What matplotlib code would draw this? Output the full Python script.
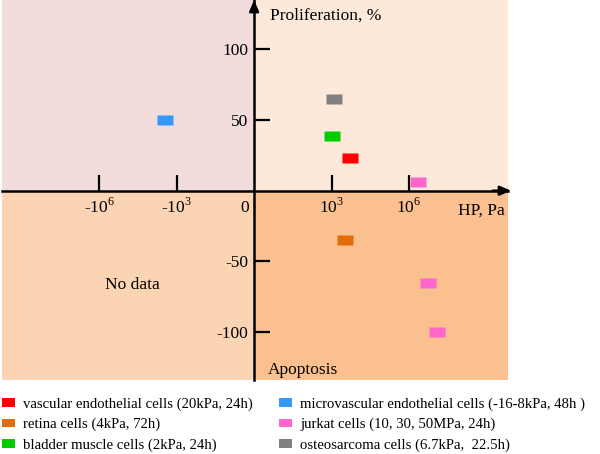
import matplotlib
matplotlib.use("Agg")
import matplotlib.pyplot as plt
from matplotlib.patches import Patch

plt.rcParams["font.family"] = "Liberation Serif"
plt.rcParams["mathtext.fontset"] = "custom"
plt.rcParams["mathtext.rm"] = "Liberation Serif"

# signed log10 of hydrostatic pressure (Pa) vs proliferation/apoptosis, %
cells = ["vascular endothelial cells (20kPa, 24h)",
         "retina cells (4kPa, 72h)",
         "bladder muscle cells (2kPa, 24h)",
         "microvascular endothelial cells (-16-8kPa, 48h )",
         "jurkat cells (10, 30, 50MPa, 24h)",
         "osteosarcoma cells (6.7kPa,  22.5h)"]
colors = ["#ff0000", "#e36c0a", "#00cc00", "#3399ff", "#ff66cc", "#808080"]
hp_exp = [[3.70], [3.51], [3.01], [-3.45], [6.34, 6.75, 7.10], [3.08]]
effect = [[23], [-35], [39], [50], [6, -65, -100], [65]]

xticks = [-6, -3, 3, 6]
xlabels = ["-10$^6$", "-10$^3$", "10$^3$", "10$^6$"]
yticks = [-100, -50, 50, 100]
ylabels = ["-100", "-50", "50", "100"]

xlim = (-9.76, 9.83)
ylim = (-133.9, 134.9)

fig = plt.figure(figsize=(6, 4.54), dpi=100)
ax = fig.add_axes([2 / 600, 74 / 454, 506 / 600, 380 / 454])
ax.set_xlim(*xlim)
ax.set_ylim(*ylim)

# quadrant backgrounds
ax.fill_between([xlim[0], 0], 0, ylim[1], color="#f2dcdb", lw=0)
ax.fill_between([0, xlim[1]], 0, ylim[1], color="#fde9d9", lw=0)
ax.fill_between([xlim[0], 0], ylim[0], 0, color="#fbd4b4", lw=0)
ax.fill_between([0, xlim[1]], ylim[0], 0, color="#fac08f", lw=0)

rect = [(-1.55, -1), (1.55, -1), (1.55, 1), (-1.55, 1), (-1.55, -1)]
for xs, ys, c in zip(hp_exp, effect, colors):
    ax.plot(xs, ys, ls="none", marker=rect, ms=12, mfc=c, mec="none", zorder=5)

for side in ["top", "right"]:
    ax.spines[side].set_visible(False)
for side in ["left", "bottom"]:
    ax.spines[side].set_position(("data", 0))
    ax.spines[side].set_linewidth(1.8)
    ax.spines[side].set_zorder(4)

ax.set_xticks(xticks, xlabels)
ax.set_yticks(yticks, ylabels)
ax.tick_params(direction="in", length=11.5, width=1.6, labelsize=12.5)
ax.tick_params(axis="x", pad=5)
ax.tick_params(axis="y", pad=4)

# arrow heads
head = "-|>,head_length=0.65,head_width=0.28"
ax.annotate("", xy=(0, 1.0), xycoords=("data", "axes fraction"),
            xytext=(0, 0.97), textcoords=("data", "axes fraction"),
            arrowprops=dict(arrowstyle=head, color="black", lw=1.8,
                            shrinkA=0, shrinkB=0))
ax.annotate("", xy=(1.006, 0), xycoords=("axes fraction", "data"),
            xytext=(0.97, 0), textcoords=("axes fraction", "data"),
            arrowprops=dict(arrowstyle=head, color="black", lw=1.8,
                            shrinkA=0, shrinkB=0))

ax.text(-0.35, -12, "0", ha="center", va="center", fontsize=12.5)
ax.text(0.6, 124, "Proliferation, %", ha="left", va="center", fontsize=12.5)
ax.text(9.7, -14, "HP, Pa", ha="right", va="center", fontsize=12.5)
ax.text(0.55, -127, "Apoptosis", ha="left", va="center", fontsize=12.5)
ax.text(-4.7, -67, "No data", ha="center", va="center", fontsize=12.5)

handles = [Patch(facecolor=c, edgecolor="none") for c in colors]
fig.legend(handles, cells, loc="upper left", bbox_to_anchor=(1.7 / 600, 1 - 397.5 / 454),
           ncol=2, frameon=False, fontsize=10.6, handlelength=0.9,
           handleheight=0.5, handletextpad=0.56, columnspacing=1.75,
           labelspacing=0.47, borderaxespad=0, borderpad=0)

fig.savefig("out.png", dpi=100)
